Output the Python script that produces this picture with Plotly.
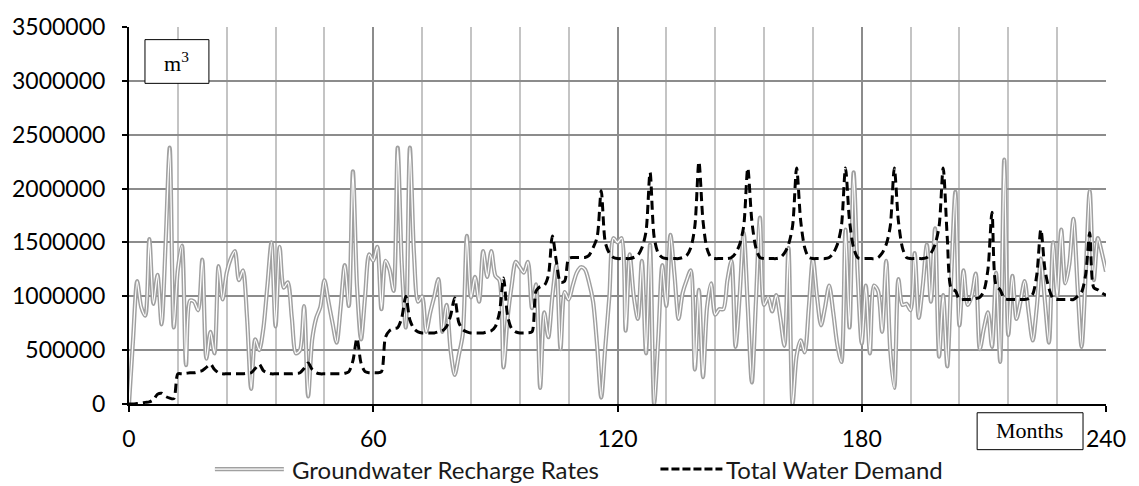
import plotly.graph_objects as go

months = list(range(0, 241))

# values in million m3
recharge_million_m3 = [
    0.00, 0.60, 1.14, 0.90, 0.82, 1.53, 0.93, 1.20, 0.74, 1.50, 2.38, 0.71,
    1.25, 1.47, 0.36, 0.96, 0.95, 0.87, 1.34, 0.42, 0.67, 0.47, 1.28, 0.97,
    1.22, 1.35, 1.42, 1.15, 1.24, 0.80, 0.14, 0.60, 0.50, 0.70, 1.10, 1.50,
    0.72, 1.46, 1.08, 1.13, 0.80, 0.47, 0.50, 0.91, 0.07, 0.60, 0.80, 0.90,
    1.15, 0.95, 0.75, 0.57, 0.90, 1.29, 0.91, 2.16, 1.10, 0.60, 1.00, 1.39,
    1.33, 1.46, 0.88, 1.33, 1.25, 1.05, 2.38, 1.30, 0.71, 2.38, 1.40, 0.95,
    1.00, 0.67, 0.85, 1.00, 1.16, 0.67, 0.92, 0.50, 0.27, 0.45, 0.65, 1.56,
    0.99, 1.18, 0.95, 1.42, 1.18, 1.42, 1.19, 1.15, 0.34, 0.80, 1.10, 1.32,
    1.27, 1.22, 1.32, 0.89, 1.11, 0.15, 0.85, 0.62, 1.00, 1.29, 0.51, 1.04,
    0.97, 1.10, 1.22, 1.27, 1.25, 1.13, 0.95, 0.54, 0.06, 0.53, 1.00, 1.54,
    1.50, 1.54, 0.68, 1.39, 1.00, 0.79, 1.33, 0.47, 1.48, 0.00, 0.60, 1.29,
    0.91, 1.57, 1.20, 0.79, 1.03, 1.15, 1.24, 0.32, 1.06, 0.25, 0.90, 1.12,
    0.83, 0.88, 0.88, 1.15, 1.33, 0.53, 1.00, 1.59, 0.90, 0.20, 0.95, 1.73,
    0.92, 0.99, 0.86, 1.01, 0.80, 0.54, 1.45, 0.00, 0.45, 0.59, 0.48, 0.90,
    1.35, 1.00, 0.73, 0.90, 1.10, 0.85, 0.55, 0.39, 1.62, 0.71, 2.15, 1.20,
    0.56, 1.10, 0.47, 1.10, 1.05, 0.67, 1.33, 0.50, 0.15, 1.16, 0.92, 0.93,
    0.87, 1.40, 0.80, 1.10, 1.48, 0.95, 1.63, 0.44, 1.01, 0.35, 1.20, 1.97,
    0.73, 1.24, 0.92, 1.00, 1.21, 0.51, 0.70, 0.85, 0.53, 1.22, 0.39, 2.27,
    0.64, 1.19, 0.79, 0.95, 1.14, 0.85, 0.59, 0.90, 1.35, 0.95, 0.57, 1.50,
    1.00, 1.62, 1.12, 1.30, 1.72, 1.10, 0.53, 1.20, 1.98, 1.15, 1.54, 1.40,
    1.23,
]

demand_million_m3 = [
    0.00, 0.00, 0.005, 0.01, 0.015, 0.02, 0.04, 0.09, 0.10, 0.07, 0.055, 0.05,
    0.28, 0.28, 0.285, 0.29, 0.29, 0.30, 0.31, 0.34, 0.37, 0.32, 0.29, 0.28,
    0.28, 0.28, 0.28, 0.28, 0.28, 0.285, 0.29, 0.33, 0.37, 0.31, 0.29, 0.28,
    0.28, 0.28, 0.28, 0.28, 0.28, 0.285, 0.29, 0.33, 0.38, 0.32, 0.29, 0.28,
    0.28, 0.28, 0.28, 0.28, 0.28, 0.285, 0.30, 0.40, 0.61, 0.38, 0.30, 0.29,
    0.29, 0.29, 0.30, 0.62, 0.68, 0.70, 0.71, 0.80, 1.00, 0.78, 0.70, 0.67,
    0.66, 0.66, 0.66, 0.66, 0.67, 0.68, 0.72, 0.82, 0.985, 0.76, 0.69, 0.67,
    0.66, 0.66, 0.66, 0.66, 0.67, 0.68, 0.72, 0.85, 1.17, 0.82, 0.70, 0.67,
    0.66, 0.66, 0.66, 0.67, 1.05, 1.09, 1.10, 1.19, 1.56, 1.32, 1.13, 1.14,
    1.35, 1.36, 1.36, 1.36, 1.36, 1.38, 1.45, 1.55, 1.98, 1.50, 1.40, 1.36,
    1.35, 1.35, 1.35, 1.35, 1.36, 1.38, 1.45, 1.60, 2.15, 1.55, 1.40, 1.36,
    1.35, 1.35, 1.35, 1.35, 1.36, 1.38, 1.45, 1.65, 2.25, 1.70, 1.44, 1.36,
    1.35, 1.35, 1.35, 1.35, 1.36, 1.40, 1.48, 1.65, 2.19, 1.70, 1.45, 1.36,
    1.35, 1.35, 1.35, 1.35, 1.36, 1.40, 1.48, 1.65, 2.19, 1.70, 1.45, 1.36,
    1.35, 1.35, 1.35, 1.35, 1.36, 1.40, 1.48, 1.65, 2.19, 1.70, 1.45, 1.36,
    1.35, 1.35, 1.35, 1.35, 1.36, 1.40, 1.48, 1.65, 2.19, 1.70, 1.45, 1.36,
    1.35, 1.35, 1.35, 1.35, 1.36, 1.40, 1.48, 1.65, 2.19, 1.55, 1.07, 1.05,
    0.97, 0.97, 0.97, 0.97, 0.98, 0.99, 1.05, 1.25, 1.78, 1.10, 1.06, 0.98,
    0.97, 0.97, 0.97, 0.97, 0.97, 0.98, 1.02, 1.20, 1.62, 1.25, 1.07, 0.98,
    0.97, 0.97, 0.97, 0.97, 0.97, 1.00, 1.04, 1.20, 1.59, 1.08, 1.06, 1.03,
    1.01,
]

x_tick_values = [0, 60, 120, 180, 240]
y_tick_values = [0, 500000, 1000000, 1500000, 2000000, 2500000, 3000000, 3500000]

series_names = ["Groundwater Recharge Rates", "Total Water Demand"]

recharge = [v * 1_000_000 for v in recharge_million_m3]
demand = [v * 1_000_000 for v in demand_million_m3]

W, H = 1139, 486
L, R, T, B = 128, 33, 16, 82
PW, PH = W - L - R, H - T - B


def px(xp):
    return (xp - L) / PW


def py(yp):
    return (H - B - yp) / PH


FONT = "Lato, 'Open Sans', sans-serif"
SERIF = "'Liberation Serif', 'Times New Roman', serif"
GRAY_LINE = "#a0a0a0"
TICK_SIZE = 23
LEG_SIZE = 24

fig = go.Figure()

# double (compound) gray line: thick gray with thin white core
fig.add_trace(go.Scatter(
    x=months, y=recharge, mode="lines", name=series_names[0],
    line=dict(color=GRAY_LINE, width=4.2, shape="spline", smoothing=0.8),
    showlegend=False, hoverinfo="skip"))
fig.add_trace(go.Scatter(
    x=months, y=recharge, mode="lines", name=series_names[0],
    line=dict(color="white", width=1.3, shape="spline", smoothing=0.8),
    showlegend=False))
fig.add_trace(go.Scatter(
    x=months, y=demand, mode="lines", name=series_names[1],
    line=dict(color="black", width=3, dash="9px,5px", shape="spline", smoothing=0.8),
    showlegend=False))

shapes = []
annotations = []

# m3 box
shapes.append(dict(type="rect", xref="paper", yref="paper",
                   x0=px(144), x1=px(208), y0=py(74), y1=py(29),
                   line=dict(color="black", width=1), fillcolor="white"))
annotations.append(dict(xref="paper", yref="paper", x=px(176), y=py(52),
                        text="m<sup>3</sup>", showarrow=False,
                        font=dict(family=SERIF, size=22, color="black"),
                        xanchor="center", yanchor="middle"))
# Months box
shapes.append(dict(type="rect", xref="paper", yref="paper",
                   x0=px(977), x1=px(1083), y0=py(451), y1=py(413),
                   line=dict(color="black", width=1), fillcolor="white"))
annotations.append(dict(xref="paper", yref="paper", x=px(1029), y=py(431),
                        text="Months", showarrow=False,
                        font=dict(family=SERIF, size=22, color="black"),
                        xanchor="center", yanchor="middle"))

# legend (drawn manually to reproduce the compound line symbol)
LEG_Y = 471
shapes.append(dict(type="line", xref="paper", yref="paper",
                   x0=px(214), x1=px(283), y0=py(LEG_Y), y1=py(LEG_Y),
                   line=dict(color=GRAY_LINE, width=4.2)))
shapes.append(dict(type="line", xref="paper", yref="paper",
                   x0=px(214), x1=px(283), y0=py(LEG_Y), y1=py(LEG_Y),
                   line=dict(color="white", width=1.3)))
annotations.append(dict(xref="paper", yref="paper", x=px(289), y=py(LEG_Y),
                        text=series_names[0], showarrow=False,
                        font=dict(family=FONT, size=LEG_SIZE, color="#1a1a1a"),
                        xanchor="left", yanchor="middle"))
shapes.append(dict(type="line", xref="paper", yref="paper",
                   x0=px(660), x1=px(722), y0=py(LEG_Y), y1=py(LEG_Y),
                   line=dict(color="black", width=3, dash="8px,3px")))
annotations.append(dict(xref="paper", yref="paper", x=px(724), y=py(LEG_Y),
                        text=series_names[1], showarrow=False,
                        font=dict(family=FONT, size=LEG_SIZE, color="#1a1a1a"),
                        xanchor="left", yanchor="middle"))

fig.update_layout(
    width=W, height=H,
    margin=dict(l=L, r=R, t=T, b=B, pad=0),
    paper_bgcolor="white", plot_bgcolor="white",
    showlegend=False,
    font=dict(family=FONT, size=TICK_SIZE, color="black"),
    shapes=shapes, annotations=annotations,
)

fig.update_xaxes(
    range=[0, 240], tickvals=x_tick_values, ticktext=[str(v) for v in x_tick_values],
    showgrid=True, gridcolor="#8c8c8c", gridwidth=1.5,
    minor=dict(dtick=12, tick0=0, showgrid=True, gridcolor="#c4c4c4", gridwidth=1.5),
    showline=True, linecolor="black", linewidth=2,
    ticks="outside", ticklen=6, tickcolor="black", tickwidth=1.5,
    ticklabelstandoff=7,
    tickfont=dict(family=FONT, size=TICK_SIZE, color="black"),
    zeroline=False,
)
fig.update_yaxes(
    range=[0, 3500000], tickvals=y_tick_values, tickformat="d",
    showgrid=True, gridcolor="#8c8c8c", gridwidth=1.5,
    showline=True, linecolor="black", linewidth=2,
    ticks="outside", ticklen=5, tickcolor="black", tickwidth=1.5,
    ticklabelstandoff=12,
    tickfont=dict(family=FONT, size=TICK_SIZE, color="black"),
    zeroline=False,
)

fig.write_html("out.html", config={"displayModeBar": False},
               post_script="document.body.style.margin='0';")
